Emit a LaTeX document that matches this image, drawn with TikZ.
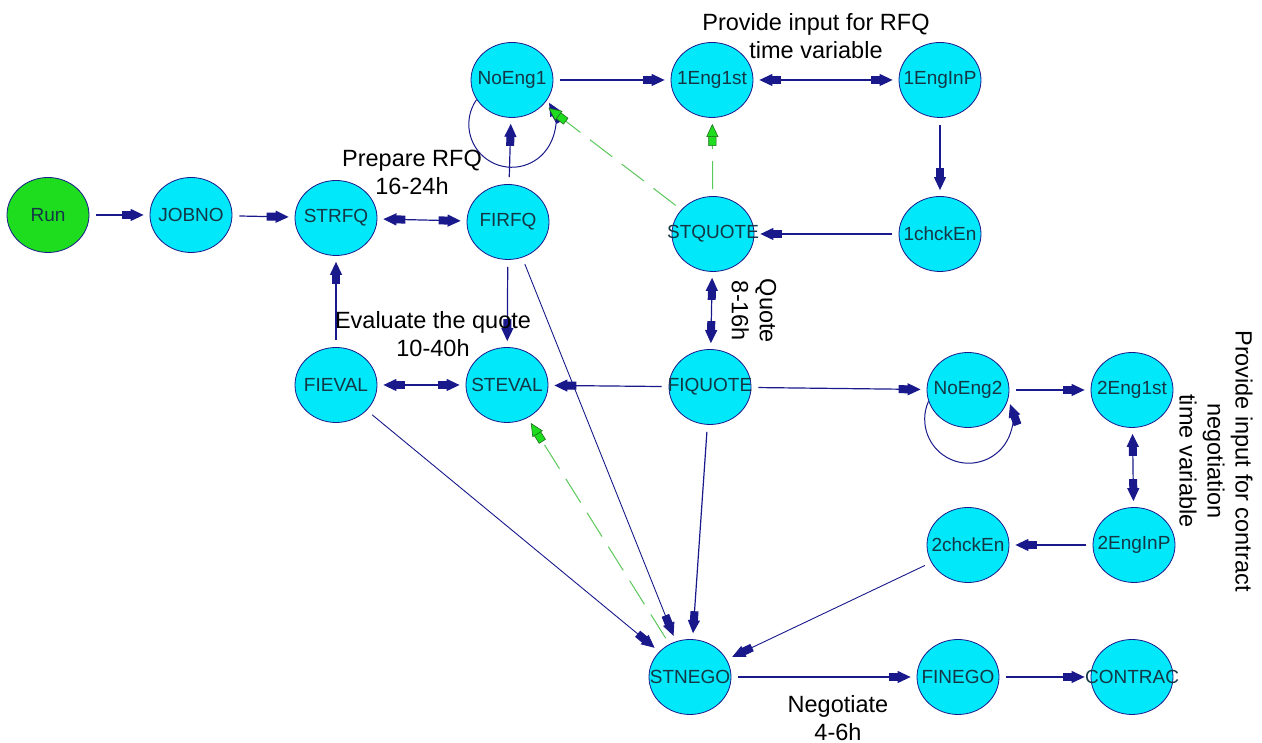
\documentclass[tikz,border=0pt]{standalone}
\usepackage{fontspec}
\setmainfont{Liberation Sans}
\usetikzlibrary{arrows.meta,shapes.geometric}
\definecolor{navyc}{RGB}{25,25,140}
\definecolor{cyanf}{RGB}{0,232,250}
\definecolor{greenf}{RGB}{30,220,30}
\definecolor{greenl}{RGB}{90,200,90}
\definecolor{greend}{RGB}{30,110,30}
\definecolor{nodetxt}{RGB}{20,55,70}
\newcommand{\zl}[1]{\makebox[0pt][c]{#1}}
\tikzset{
  blk/.tip={Rectangle[length=10pt,width=8pt,sep=-1pt] Triangle[length=13pt,width=12pt]},
  gblk/.tip={Rectangle[length=10pt,width=8pt,sep=-1pt,color=greend,fill=greenf,line width=0.6pt] Triangle[length=13pt,width=12pt,color=greend,fill=greenf,line width=0.6pt]},
  st/.style={ellipse, draw=navyc, line width=0.8pt, fill=cyanf, minimum width=82pt,
    minimum height=75pt, inner sep=0pt, text=nodetxt, font=\fontsize{19}{19}\selectfont},
  startst/.style={st, fill=greenf},
  arr/.style={draw=navyc, line width=1.2pt, -blk, shorten >=6pt, shorten <=7pt},
  arr2/.style={draw=navyc, line width=1.2pt, blk-blk, shorten >=6pt, shorten <=6pt},
  arrthin/.style={arr, line width=0.9pt},
  looparr/.style={draw=navyc, line width=1pt, -blk},
  garr/.style={draw=greenl, line width=1pt, dash pattern=on 28pt off 12pt,
    -gblk, shorten >=6pt, shorten <=7pt},
  lbl/.style={font=\fontsize{23.5}{28}\selectfont, align=center, text=black, inner sep=0pt}
}
\begin{document}
\begin{tikzpicture}[x=1pt,y=1pt]
\path[use as bounding box, fill=white] (0,0) rectangle (1262,743);

% nodes
\node[startst] (Run) at (48,528) {\zl{Run}};
\node[st] (JOBNO) at (191,528) {\zl{JOBNO}};
\node[st] (STRFQ) at (336,525) {\zl{STRFQ}};
\node[st] (FIRFQ) at (508,521) {\zl{FIRFQ}};
\node[st] (NoEng1) at (512,663) {\zl{NoEng1}};
\node[st] (e1first) at (712,663) {\zl{1Eng1st}};
\node[st] (e1inp) at (940,663) {\zl{1EngInP}};
\node[st] (c1chk) at (940,509) {\zl{1chckEn}};
\node[st] (STQUOTE) at (713,509) {\zl{STQUOTE}};
\node[st] (FIQUOTE) at (710,356) {\zl{FIQUOTE}};
\node[st] (STEVAL) at (507,358) {\zl{STEVAL}};
\node[st] (FIEVAL) at (336,358) {\zl{FIEVAL}};
\node[st] (NoEng2) at (968,353) {\zl{NoEng2}};
\node[st] (e2first) at (1132,353) {\zl{2Eng1st}};
\node[st] (c2chk) at (968,198) {\zl{2chckEn}};
\node[st] (e2inp) at (1134,198) {\zl{2EngInP}};
\node[st] (STNEGO) at (690,66) {\zl{STNEGO}};
\node[st] (FINEGO) at (958,66) {\zl{FINEGO}};
\node[st] (CONTRAC) at (1132,66) {\zl{CONTRAC}};

% connectors
\draw[arr] (Run) -- (JOBNO);
\draw[arr] (JOBNO) -- (STRFQ);
\draw[arr2] (STRFQ) -- (FIRFQ);
\draw[arr] (FIRFQ) -- (NoEng1);
\draw[arr] (FIRFQ) -- (STEVAL);
\draw[arrthin] (FIRFQ) -- (STNEGO);
\draw[looparr] (NoEng1.209) arc[start angle=145, end angle=390, radius=43pt];
\draw[arr] (NoEng1) -- (e1first);
\draw[arr2] (e1first) -- (e1inp);
\draw[arr] (e1inp) -- (c1chk);
\draw[arr] (c1chk) -- (STQUOTE);
\draw[garr] (STQUOTE) -- (e1first);
\draw[garr] (STQUOTE) -- (NoEng1);
\draw[arr2] (STQUOTE) -- (FIQUOTE);
\draw[arr] (FIQUOTE) -- (STEVAL);
\draw[arr] (FIQUOTE) -- (STNEGO);
\draw[arr] (FIQUOTE) -- (NoEng2);
\draw[arr2] (FIEVAL) -- (STEVAL);
\draw[arr] (FIEVAL) -- (STRFQ);
\draw[arrthin] (FIEVAL) -- (STNEGO);
\draw[garr] (STNEGO) -- (STEVAL);
\draw[looparr] (NoEng2.196) arc[start angle=156, end angle=380, radius=44pt];
\draw[arr] (NoEng2) -- (e2first);
\draw[arr2] (e2first) -- (e2inp);
\draw[arr] (e2inp) -- (c2chk);
\draw[arrthin] (c2chk) -- (STNEGO);
\draw[arr] (STNEGO) -- (FINEGO);
\draw[arr] (FINEGO) -- (CONTRAC);

% labels
\node[lbl] (lprep) at (412,571) {Prepare RFQ\\16-24h};
\node[lbl] (lrfq) at (816,707) {Provide input for RFQ\\time variable};
\node[lbl] (leval) at (433,409) {Evaluate the quote\\10-40h};
\node[lbl, rotate=-90] (lquote) at (754,432) {Quote\\8-16h};
\node[lbl, rotate=-90] (lneg2) at (1216,282) {Provide input for contract\\negotiation\\time variable};
\node[lbl] (lneg) at (838,25) {Negotiate\\4-6h};
\end{tikzpicture}
\end{document}
